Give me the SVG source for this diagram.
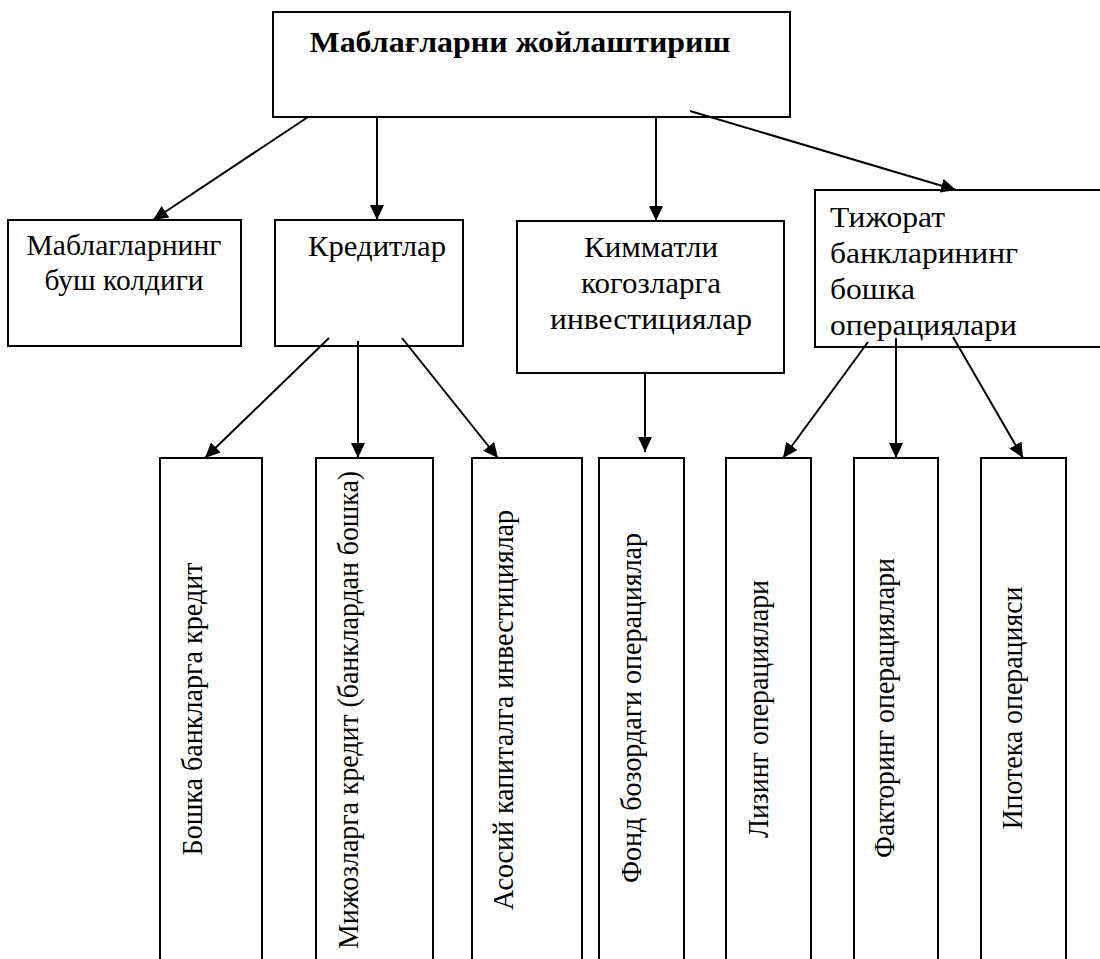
<svg xmlns="http://www.w3.org/2000/svg" width="1100" height="959" viewBox="0 0 1100 959">
<style>
.box{fill:#fff;stroke:#000;stroke-width:2}
.t{font-family:"Liberation Serif","Times New Roman",Times,Tinos,serif;font-size:30px;fill:#000}
.b{font-weight:bold}
.c{stroke:#000;stroke-width:2;fill:none}
</style>
<defs>
<marker id="ah" markerUnits="userSpaceOnUse" markerWidth="15" markerHeight="14" refX="15" refY="7" orient="auto">
<path d="M0,0 L15,7 L0,14 z" fill="#000"/>
</marker>
</defs>
<rect width="1100" height="959" fill="#fff"/>
<g id="n-top">
<rect class="box" x="273" y="12" width="517" height="105"/>
<text class="t b" x="520" y="52" text-anchor="middle" textLength="421" lengthAdjust="spacingAndGlyphs">Маблағларни жойлаштириш</text>
</g>
<g id="n-bush">
<rect class="box" x="8" y="220" width="233" height="126"/>
<text class="t" x="124" y="255" text-anchor="middle" textLength="195" lengthAdjust="spacingAndGlyphs">Маблагларнинг</text>
<text class="t" x="124" y="290" text-anchor="middle" textLength="159" lengthAdjust="spacingAndGlyphs">буш колдиги</text>
</g>
<g id="n-kredit">
<rect class="box" x="275" y="220" width="188" height="126"/>
<text class="t" x="377" y="256" text-anchor="middle" textLength="138" lengthAdjust="spacingAndGlyphs">Кредитлар</text>
</g>
<g id="n-kimmatli">
<rect class="box" x="517" y="221" width="267" height="152"/>
<text class="t" x="651" y="257" text-anchor="middle" textLength="134" lengthAdjust="spacingAndGlyphs">Кимматли</text>
<text class="t" x="651" y="293" text-anchor="middle" textLength="140" lengthAdjust="spacingAndGlyphs">когозларга</text>
<text class="t" x="651" y="329" text-anchor="middle" textLength="202" lengthAdjust="spacingAndGlyphs">инвестициялар</text>
</g>
<g id="n-tijorat">
<rect class="box" x="815" y="190" width="300" height="157"/>
<text class="t" x="830" y="227" textLength="115" lengthAdjust="spacingAndGlyphs">Тижорат</text>
<text class="t" x="830" y="263" textLength="188" lengthAdjust="spacingAndGlyphs">банкларининг</text>
<text class="t" x="830" y="299" textLength="85" lengthAdjust="spacingAndGlyphs">бошка</text>
<text class="t" x="830" y="335" textLength="187" lengthAdjust="spacingAndGlyphs">операциялари</text>
</g>
<g id="n-b1">
<rect class="box" x="160" y="458" width="102" height="520"/>
<text class="t" transform="translate(202,709) rotate(-90)" text-anchor="middle" textLength="293" lengthAdjust="spacingAndGlyphs">Бошка банкларга кредит</text>
</g>
<g id="n-b2">
<rect class="box" x="316" y="458" width="117" height="520"/>
<text class="t" transform="translate(358,710) rotate(-90)" text-anchor="middle" textLength="478" lengthAdjust="spacingAndGlyphs">Мижозларга кредит (банклардан бошка)</text>
</g>
<g id="n-b3">
<rect class="box" x="472" y="458" width="110" height="520"/>
<text class="t" transform="translate(513,710) rotate(-90)" text-anchor="middle" textLength="400" lengthAdjust="spacingAndGlyphs">Асосий капиталга инвестициялар</text>
</g>
<g id="n-b4">
<rect class="box" x="599" y="458" width="85" height="520"/>
<text class="t" transform="translate(641,708) rotate(-90)" text-anchor="middle" textLength="350" lengthAdjust="spacingAndGlyphs">Фонд бозордаги операциялар</text>
</g>
<g id="n-b5">
<rect class="box" x="726" y="458" width="85" height="520"/>
<text class="t" transform="translate(768,709) rotate(-90)" text-anchor="middle" textLength="258" lengthAdjust="spacingAndGlyphs">Лизинг операциялари</text>
</g>
<g id="n-b6">
<rect class="box" x="854" y="458" width="84" height="520"/>
<text class="t" transform="translate(894,708) rotate(-90)" text-anchor="middle" textLength="300" lengthAdjust="spacingAndGlyphs">Факторинг операциялари</text>
</g>
<g id="n-b7">
<rect class="box" x="981" y="458" width="85" height="520"/>
<text class="t" transform="translate(1022,708) rotate(-90)" text-anchor="middle" textLength="243" lengthAdjust="spacingAndGlyphs">Ипотека операцияси</text>
</g>
<g id="connectors">
<line class="c" x1="308" y1="117" x2="153" y2="220" marker-end="url(#ah)"/>
<line class="c" x1="377" y1="117" x2="377" y2="220" marker-end="url(#ah)"/>
<line class="c" x1="656" y1="117" x2="656" y2="221" marker-end="url(#ah)"/>
<line class="c" x1="690" y1="111" x2="956" y2="190" marker-end="url(#ah)"/>
<line class="c" x1="329" y1="338" x2="205" y2="458" marker-end="url(#ah)"/>
<line class="c" x1="358" y1="341" x2="358" y2="458" marker-end="url(#ah)"/>
<line class="c" x1="402" y1="338" x2="498" y2="458" marker-end="url(#ah)"/>
<line class="c" x1="645" y1="373" x2="645" y2="452" marker-end="url(#ah)"/>
<line class="c" x1="868" y1="342" x2="783" y2="458" marker-end="url(#ah)"/>
<line class="c" x1="896" y1="338" x2="896" y2="458" marker-end="url(#ah)"/>
<line class="c" x1="953" y1="337" x2="1023" y2="458" marker-end="url(#ah)"/>
</g>
</svg>
